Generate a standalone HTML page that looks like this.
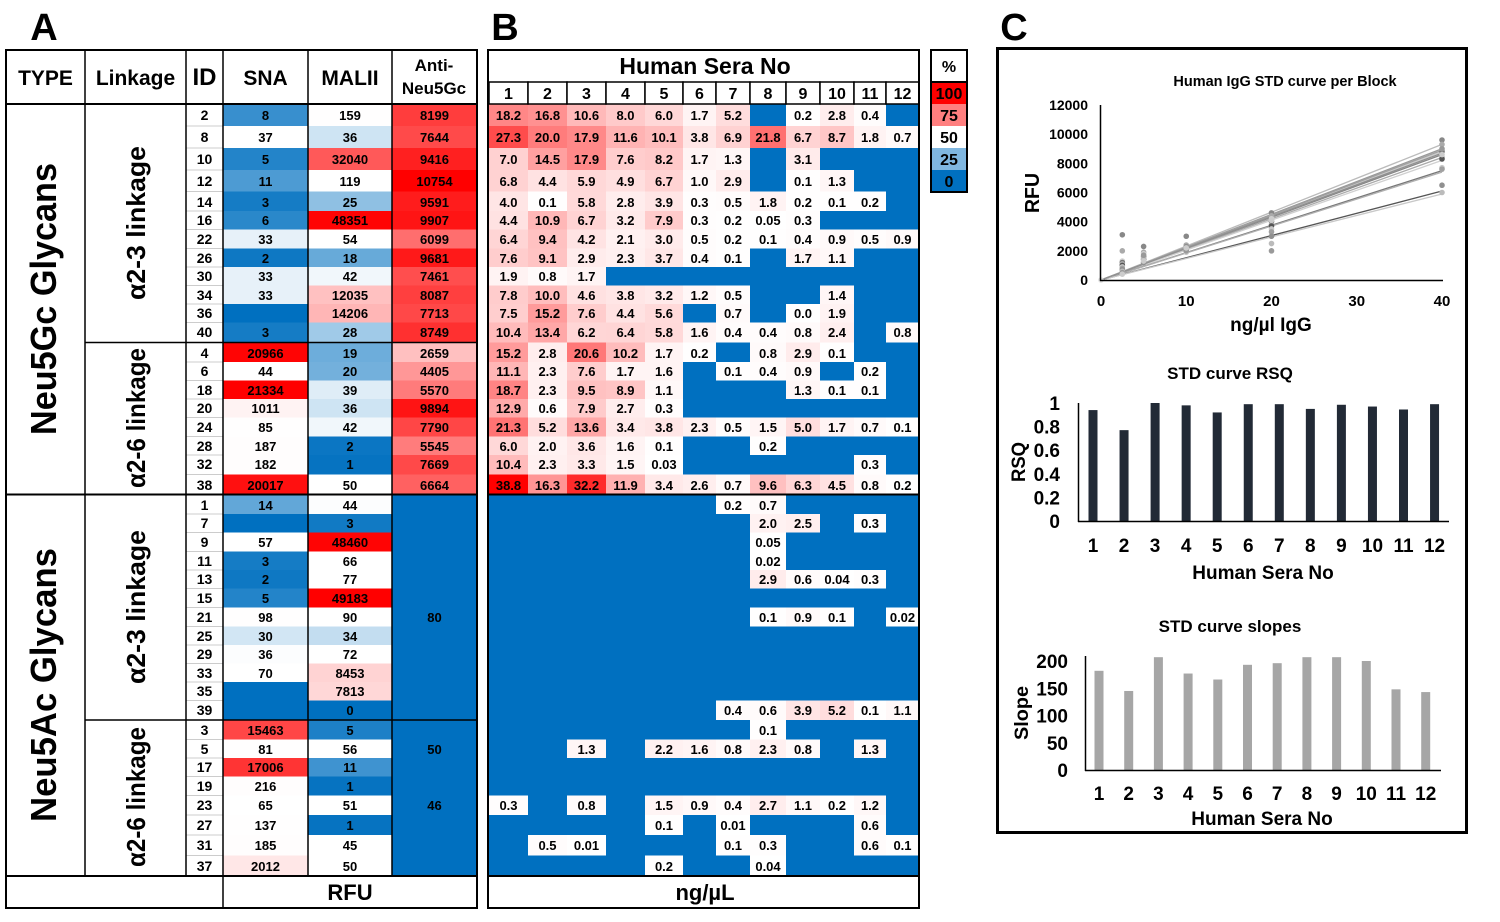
<!DOCTYPE html>
<html><head><meta charset="utf-8">
<style>
html,body{margin:0;padding:0;background:#fff;}
svg{display:block;font-family:"Liberation Sans",Arial,sans-serif;font-weight:bold;}
</style></head>
<body>
<svg id="fig" width="1500" height="922" viewBox="0 0 1500 922" xmlns="http://www.w3.org/2000/svg">
<rect x="0" y="0" width="1500" height="922" fill="#fff"/>
<g id="panelA"></g>
<g id="panelB"></g>
<g id="legend"></g>
<g id="panelC"></g>
</svg>
<script>
const N = null;
// ---- Panel A data ----
const glycanIds = [2,8,10,12,14,16,22,26,30,34,36,40,4,6,18,20,24,28,32,38,1,7,9,11,13,15,21,25,29,33,35,39,3,5,17,19,23,27,31,37];
const snaValues = [8,37,5,11,3,6,33,2,33,33,N,3,20966,44,21334,1011,85,187,182,20017,14,N,57,3,2,5,98,30,36,70,N,N,15463,81,17006,216,65,137,185,2012];
const maliiValues = [159,36,32040,119,25,48351,54,18,42,12035,14206,28,19,20,39,36,42,2,1,50,44,3,48460,66,77,49183,90,34,72,8453,7813,0,5,56,11,1,51,1,45,50];
const antiNeu5GcValues = [8199,7644,9416,10754,9591,9907,6099,9681,7461,8087,7713,8749,2659,4405,5570,9894,7790,5545,7669,6664,N,N,N,N,N,N,80,N,N,N,N,N,N,50,N,N,46,N,N,N];
// ---- Panel B data (ng/uL, printed strings), 12 sera per row ----
const seraLabels = ["1","2","3","4","5","6","7","8","9","10","11","12"];
const seraRows = [
["18.2","16.8","10.6","8.0","6.0","1.7","5.2",N,"0.2","2.8","0.4",N],
["27.3","20.0","17.9","11.6","10.1","3.8","6.9","21.8","6.7","8.7","1.8","0.7"],
["7.0","14.5","17.9","7.6","8.2","1.7","1.3",N,"3.1",N,N,N],
["6.8","4.4","5.9","4.9","6.7","1.0","2.9",N,"0.1","1.3",N,N],
["4.0","0.1","5.8","2.8","3.9","0.3","0.5","1.8","0.2","0.1","0.2",N],
["4.4","10.9","6.7","3.2","7.9","0.3","0.2","0.05","0.3",N,N,N],
["6.4","9.4","4.2","2.1","3.0","0.5","0.2","0.1","0.4","0.9","0.5","0.9"],
["7.6","9.1","2.9","2.3","3.7","0.4","0.1",N,"1.7","1.1",N,N],
["1.9","0.8","1.7",N,N,N,N,N,N,N,N,N],
["7.8","10.0","4.6","3.8","3.2","1.2","0.5",N,N,"1.4",N,N],
["7.5","15.2","7.6","4.4","5.6",N,"0.7",N,"0.0","1.9",N,N],
["10.4","13.4","6.2","6.4","5.8","1.6","0.4","0.4","0.8","2.4",N,"0.8"],
["15.2","2.8","20.6","10.2","1.7","0.2",N,"0.8","2.9","0.1",N,N],
["11.1","2.3","7.6","1.7","1.6",N,"0.1","0.4","0.9",N,"0.2",N],
["18.7","2.3","9.5","8.9","1.1",N,N,N,"1.3","0.1","0.1",N],
["12.9","0.6","7.9","2.7","0.3",N,N,N,N,N,N,N],
["21.3","5.2","13.6","3.4","3.8","2.3","0.5","1.5","5.0","1.7","0.7","0.1"],
["6.0","2.0","3.6","1.6","0.1",N,N,"0.2",N,N,N,N],
["10.4","2.3","3.3","1.5","0.03",N,N,N,N,N,"0.3",N],
["38.8","16.3","32.2","11.9","3.4","2.6","0.7","9.6","6.3","4.5","0.8","0.2"],
[N,N,N,N,N,N,"0.2","0.7",N,N,N,N],
[N,N,N,N,N,N,N,"2.0","2.5",N,"0.3",N],
[N,N,N,N,N,N,N,"0.05",N,N,N,N],
[N,N,N,N,N,N,N,"0.02",N,N,N,N],
[N,N,N,N,N,N,N,"2.9","0.6","0.04","0.3",N],
[N,N,N,N,N,N,N,N,N,N,N,N],
[N,N,N,N,N,N,N,"0.1","0.9","0.1",N,"0.02"],
[N,N,N,N,N,N,N,N,N,N,N,N],
[N,N,N,N,N,N,N,N,N,N,N,N],
[N,N,N,N,N,N,N,N,N,N,N,N],
[N,N,N,N,N,N,N,N,N,N,N,N],
[N,N,N,N,N,N,"0.4","0.6","3.9","5.2","0.1","1.1"],
[N,N,N,N,N,N,N,"0.1",N,N,N,N],
[N,N,"1.3",N,"2.2","1.6","0.8","2.3","0.8",N,"1.3",N],
[N,N,N,N,N,N,N,N,N,N,N,N],
[N,N,N,N,N,N,N,N,N,N,N,N],
["0.3",N,"0.8",N,"1.5","0.9","0.4","2.7","1.1","0.2","1.2",N],
[N,N,N,N,"0.1",N,"0.01",N,N,N,"0.6",N],
[N,"0.5","0.01",N,N,N,"0.1","0.3",N,N,"0.6","0.1"],
[N,N,N,N,"0.2",N,N,"0.04",N,N,N,N]
];
// ---- Panel C data ----
const stdConc = [2.5,5,10,20,40];
const stdRfu2_5 = [3100,2000,1300,1200,1100,1000,900,800,700,600,500,400];
const stdRfu5 = [2300,1900,1800,1600,1500,1400,1300,1200,1200,1500,1700,1300];
const stdRfu10 = [3000,2400,2300,2200,2100,2000,1900,2200,2300,2100,2000,2200];
const stdRfu20 = [4600,4400,4200,4000,3800,3700,3500,3300,3000,2500,2000,4100];
const stdRfu40 = [9600,9300,8900,8800,8400,8300,7700,7600,6500,6000,9000,8600];
const fitRfuAt40 = [9300,9000,8800,8600,8400,8200,7500,7400,6100,5900,8900,8700];
const rfuTicks = [0,2000,4000,6000,8000,10000,12000];
const concTicks = [0,10,20,30,40];
const rsqValues = [0.94,0.77,1.0,0.98,0.92,0.99,0.99,0.95,0.985,0.97,0.945,0.99];
const rsqTicks = ["0","0.2","0.4","0.6","0.8","1"];
const slopeValues = [182,145,207,177,166,193,196,207,207,200,148,143];
const slopeTicks = [0,50,100,150,200];

const NS = "http://www.w3.org/2000/svg";
function mk(parent, tag, attrs, text){
  const e = document.createElementNS(NS, tag);
  for (const k in attrs) e.setAttribute(k, attrs[k]);
  if (text !== undefined) e.textContent = text;
  parent.appendChild(e);
  return e;
}
const BLUE=[0,112,192], WHITE=[255,255,255], RED=[255,0,0];
function mix(a,b,t){t=Math.max(0,Math.min(1,t));return "rgb("+a.map((v,i)=>Math.round(v+(b[i]-v)*t)).join(",")+")";}
function threeScale(vals){
  const s = vals.map(v=>v===null?0:v).sort((a,b)=>a-b);
  const n=s.length, mid = n%2? s[(n-1)/2] : (s[n/2-1]+s[n/2])/2;
  const mn=s[0], mx=s[n-1];
  return v => v===null ? mix(BLUE,BLUE,0) : (v<=mid ? mix(BLUE,WHITE,(v-mn)/(mid-mn)) : mix(WHITE,RED,(v-mid)/(mx-mid)));
}

// Row geometry (layout)
const rowCenters=[115,137,159,181,202,220,239,258,276,295,313,332,353,371,390,408,427,446,464,485,505,523,542,561,579,598,617,636,654,673,691,710,730,749,767,786,805,825,845,866];
const rowTop=[], rowBot=[];
for(let i=0;i<rowCenters.length;i++){
  rowTop.push(i===0?104:(rowCenters[i-1]+rowCenters[i])/2);
  rowBot.push(i===rowCenters.length-1?876:(rowCenters[i]+rowCenters[i+1])/2);
}

// ---------- Panel A ----------
const A = document.getElementById('panelA');
const lA = mk(A,'text',{x:44,y:40,'font-size':38,'text-anchor':'middle'},'A');
 
const colX=[6,85,186,223,308,392,477];
const headers=["TYPE","Linkage","ID","SNA","MALII"];
headers.forEach((h,i)=>{
  const t=mk(A,'text',{x:(colX[i]+colX[i+1])/2,y:85,'font-size':i==2?24:21,'text-anchor':'middle'},h);
   
});
const ah1=mk(A,'text',{x:434,y:71,'font-size':17,'text-anchor':'middle'},'Anti-');
 
mk(A,'text',{x:434,y:94,'font-size':17,'text-anchor':'middle'},'Neu5Gc');

const snaColor=threeScale(snaValues), maliiColor=threeScale(maliiValues);
const antiMax=Math.max(...antiNeu5GcValues.filter(v=>v!==null));
glycanIds.forEach((id,i)=>{
  const y0=rowTop[i], h=rowBot[i]-rowTop[i], cy=rowCenters[i]+5;
  const idt=mk(A,'text',{x:204.5,y:cy,'font-size':14,'text-anchor':'middle'},String(id));
   
  if(i>0) mk(A,'line',{x1:186,x2:223,y1:y0,y2:y0,stroke:'#ccc','stroke-width':1});
  const cols=[[snaValues[i],snaColor,223,308],[maliiValues[i],maliiColor,308,392],[antiNeu5GcValues[i],null,392,477]];
  cols.forEach((c,j)=>{
    const v=c[0];
    let fill;
    if(j<2) fill=c[1](v); else fill=(v===null||v<1000)?mix(BLUE,BLUE,0):mix(WHITE,RED,v/antiMax);
    const r=mk(A,'rect',{x:c[2],y:y0,width:c[3]-c[2],height:h+0.5,fill:fill});
     
    if(v!==null){ mk(A,'text',{x:(c[2]+c[3])/2,y:cy,'font-size':13,'text-anchor':'middle'},String(v)); }
  });
});
mk(A,'rect',{x:6,y:50,width:471,height:858,fill:'none',stroke:'#000','stroke-width':2});
[85,186,223,308,392].forEach(x=>mk(A,'line',{x1:x,x2:x,y1:50,y2:876,stroke:'#000','stroke-width':1.5}));
mk(A,'line',{x1:223,x2:223,y1:876,y2:908,stroke:'#000','stroke-width':1.5});
mk(A,'line',{x1:6,x2:477,y1:104,y2:104,stroke:'#000','stroke-width':2});
mk(A,'line',{x1:6,x2:477,y1:876,y2:876,stroke:'#000','stroke-width':2});
mk(A,'line',{x1:6,x2:477,y1:494.5,y2:494.5,stroke:'#000','stroke-width':2});
mk(A,'line',{x1:85,x2:477,y1:342.5,y2:342.5,stroke:'#000','stroke-width':1.5});
mk(A,'line',{x1:85,x2:477,y1:720,y2:720,stroke:'#000','stroke-width':1.5});
const rfu=mk(A,'text',{x:350,y:900,'font-size':22,'text-anchor':'middle'},'RFU');
 
function rot(parent,x,y,size,len,txt,name){
  const t=mk(parent,'text',{x:0,y:0,'font-size':size,'text-anchor':'middle',transform:`translate(${x},${y}) rotate(-90)`,textLength:len,lengthAdjust:'spacingAndGlyphs'},txt);
   
  return t;
}
rot(A,56,299,36,272,'Neu5Gc Glycans','type-neu5gc-glycans');
rot(A,56,685,36,274,'Neu5Ac Glycans','type-neu5ac-glycans');
rot(A,145,223,26,154,'α2-3 linkage','linkage-neu5gc-a2-3');
rot(A,145,418,26,140,'α2-6 linkage','linkage-neu5gc-a2-6');
rot(A,145,607,26,154,'α2-3 linkage','linkage-neu5ac-a2-3');
rot(A,145,797,26,140,'α2-6 linkage','linkage-neu5ac-a2-6');

// ---------- Panel B ----------
const B=document.getElementById('panelB');
const lB=mk(B,'text',{x:505,y:40,'font-size':38,'text-anchor':'middle'},'B');
 
const bX=[489,528,567,606,645,683,716,750,786,820,854,886,919];
let bMax=0; seraRows.forEach(r=>r.forEach(v=>{if(v!==null) bMax=Math.max(bMax,parseFloat(v));}));
seraRows.forEach((row,i)=>{
  const y0=rowTop[i], h=rowBot[i]-rowTop[i];
  row.forEach((v,j)=>{
    const fill = v===null ? mix(BLUE,BLUE,0) : mix(WHITE,RED,parseFloat(v)/bMax);
    const r=mk(B,'rect',{x:bX[j],y:y0,width:bX[j+1]-bX[j]+0.5,height:h+0.5,fill:fill});
     
    if(v!==null) mk(B,'text',{x:(bX[j]+bX[j+1])/2,y:rowCenters[i]+5,'font-size':13,'text-anchor':'middle'},v);
  });
});
seraLabels.forEach((s,j)=>{
  mk(B,'rect',{x:bX[j],y:82,width:bX[j+1]-bX[j],height:22,fill:'#fff',stroke:'#000','stroke-width':1.5});
  const t=mk(B,'text',{x:(bX[j]+bX[j+1])/2,y:99,'font-size':16,'text-anchor':'middle'},s);
   
});
mk(B,'rect',{x:488,y:50,width:431,height:858,fill:'none',stroke:'#000','stroke-width':2});
mk(B,'line',{x1:488,x2:919,y1:494.5,y2:494.5,stroke:'#000','stroke-width':2});
mk(B,'line',{x1:488,x2:919,y1:876,y2:876,stroke:'#000','stroke-width':2});
const hs=mk(B,'text',{x:705,y:74,'font-size':23,'text-anchor':'middle'},'Human Sera No');
 
const ng=mk(B,'text',{x:705,y:900,'font-size':22,'text-anchor':'middle'},'ng/µL');
 

// ---------- Legend ----------
const L=document.getElementById('legend');
const legendLabels=["100","75","50","25","0"];
const legendFills=["#ff0000","#ff7f7f","#ffffff","#80b7e0","#0070c0"];
mk(L,'text',{x:949,y:72,'font-size':16,'text-anchor':'middle'},'%');
legendLabels.forEach((s,k)=>{
  const r=mk(L,'rect',{x:931,y:82+k*22,width:36,height:22,fill:legendFills[k]});
   
  mk(L,'text',{x:949,y:99+k*22,'font-size':16,'text-anchor':'middle'},s);
});
mk(L,'rect',{x:931,y:50,width:36,height:142,fill:'none',stroke:'#000','stroke-width':2});
mk(L,'line',{x1:931,x2:967,y1:82,y2:82,stroke:'#000','stroke-width':2});

// ---------- Panel C ----------
const C=document.getElementById('panelC');
const lC=mk(C,'text',{x:1014,y:40,'font-size':38,'text-anchor':'middle'},'C');
 
mk(C,'rect',{x:997.5,y:48.5,width:469,height:784,fill:'none',stroke:'#000','stroke-width':3});
const sx=v=>1101+v*(1442-1101)/40, sy=v=>280-v*(280-105)/12000;
const st=mk(C,'text',{x:1285,y:86,'font-size':14.5,'text-anchor':'middle'},'Human IgG STD curve per Block');
 
const greys=["#bbb","#999","#ccc","#888","#aaa","#d0d0d0","#777","#b0b0b0","#555","#c8c8c8","#a0a0a0","#909090"];
fitRfuAt40.forEach((v,k)=>{
  const l=mk(C,'line',{x1:sx(0),y1:sy(0),x2:sx(40),y2:sy(v),stroke:greys[k],'stroke-width':1.3});
   
});
const stdSets=[stdRfu2_5,stdRfu5,stdRfu10,stdRfu20,stdRfu40];
stdSets.forEach((arr,ci)=>arr.forEach((v,k)=>{
  const c=mk(C,'circle',{cx:sx(stdConc[ci]),cy:sy(v),r:2.8,fill:greys[(k+3)%12]});
   
}));
mk(C,'circle',{cx:sx(0),cy:sy(0),r:2.8,fill:'#ddd'});
mk(C,'line',{x1:1100.5,x2:1100.5,y1:105,y2:281,stroke:'#000','stroke-width':1.5});
mk(C,'line',{x1:1100,x2:1443,y1:280.5,y2:280.5,stroke:'#000','stroke-width':1.5});
rfuTicks.forEach(t=>mk(C,'text',{x:1088,y:sy(t)+5,'font-size':14,'text-anchor':'end'},String(t)));
concTicks.forEach(t=>mk(C,'text',{x:sx(t),y:306,'font-size':15,'text-anchor':'middle'},String(t)));
rot(C,1039,193,20,40,'RFU','rfu-axis-title');
const xl=mk(C,'text',{x:1271,y:331,'font-size':19,'text-anchor':'middle'},'ng/µl IgG');
 

const rx=i=>1093+i*31.05, ry=v=>521-v*118;
const rt=mk(C,'text',{x:1230,y:379,'font-size':17,'text-anchor':'middle'},'STD curve RSQ');
 
rsqValues.forEach((v,i)=>{
  const b=mk(C,'rect',{x:rx(i)-4.5,y:ry(v),width:9,height:ry(0)-ry(v),fill:'#222a36'});
   
  mk(C,'text',{x:rx(i),y:552,'font-size':19,'text-anchor':'middle'},String(i+1));
});
mk(C,'line',{x1:1078.5,x2:1078.5,y1:403,y2:522,stroke:'#000','stroke-width':1.5});
mk(C,'line',{x1:1078,x2:1449,y1:521.5,y2:521.5,stroke:'#000','stroke-width':1.5});
rsqTicks.forEach(t=>mk(C,'text',{x:1060,y:ry(parseFloat(t))+7,'font-size':19,'text-anchor':'end'},t));
rot(C,1025,462,19,40,'RSQ','rsq-axis-title');
const rxl=mk(C,'text',{x:1263,y:579,'font-size':19,'text-anchor':'middle'},'Human Sera No');
 

const px=i=>1099+i*29.7, py=v=>770-v*0.545;
const ptt=mk(C,'text',{x:1230,y:632,'font-size':17,'text-anchor':'middle'},'STD curve slopes');
 
slopeValues.forEach((v,i)=>{
  const b=mk(C,'rect',{x:px(i)-4.5,y:py(v),width:9,height:py(0)-py(v),fill:'#a6a6a6'});
   
  mk(C,'text',{x:px(i),y:800,'font-size':19,'text-anchor':'middle'},String(i+1));
});
mk(C,'line',{x1:1085.5,x2:1085.5,y1:656,y2:771,stroke:'#000','stroke-width':1.5});
mk(C,'line',{x1:1085,x2:1441,y1:770.5,y2:770.5,stroke:'#000','stroke-width':1.5});
slopeTicks.forEach(t=>mk(C,'text',{x:1068,y:py(t)+7,'font-size':19,'text-anchor':'end'},String(t)));
rot(C,1028,713,19,54,'Slope','slope-axis-title');
const pxl=mk(C,'text',{x:1262,y:825,'font-size':19,'text-anchor':'middle'},'Human Sera No');
 
</script>
</body></html>
